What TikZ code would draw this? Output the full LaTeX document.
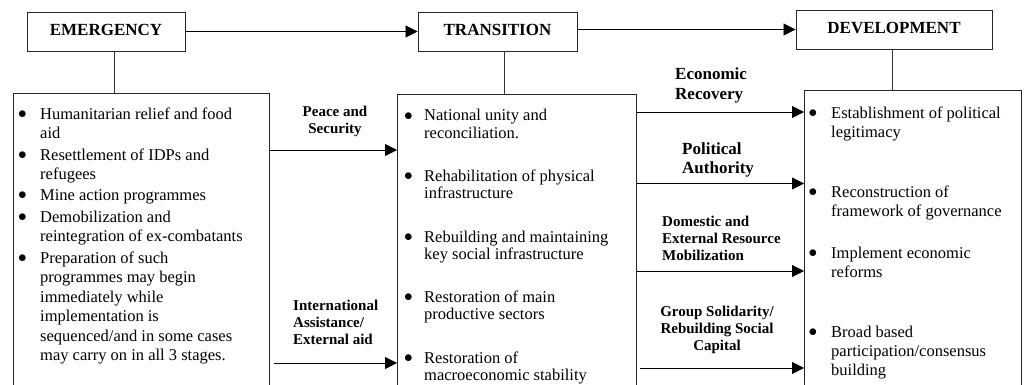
\documentclass[tikz,border=0pt]{standalone}
\usepackage{fontspec}
\setmainfont{Liberation Serif}
\usetikzlibrary{arrows.meta}
\newcommand{\bulletmark}{\raisebox{0.5pt}{$\bullet$}}
\begin{document}
\begin{tikzpicture}[x=1pt,y=-1pt,
  hdr/.style={draw=black!85, line width=0.9pt, minimum width=158pt, minimum height=39pt,
    inner sep=0pt, font=\fontsize{17}{20}\selectfont\bfseries, text height=11.5pt, text depth=4pt},
  panel/.style={draw=black!85, line width=0.9pt, anchor=north west, inner sep=0pt, minimum height=400pt},
  itm/.style={anchor=base west, inner sep=0pt},
  lab/.style={inner sep=0pt, font=\fontsize{15}{17}\selectfont\bfseries},
  biglab/.style={inner sep=0pt, font=\fontsize{17}{19.5}\selectfont\bfseries},
  arr/.style={line width=0.8pt, -{Triangle[length=12pt,width=12pt]}},
  link/.style={line width=0.8pt, draw=black!80}]

\useasboundingbox (0,0) rectangle (1024,385);
\clip (0,0) rectangle (1024,385);

% stage headers
\node[hdr] (E) at (106,31.5) {EMERGENCY};
\node[hdr, minimum width=159pt] (T) at (497.5,31.5) {TRANSITION};
\node[hdr, minimum width=196pt] (D) at (894,29.5) {DEVELOPMENT};

% panels
\node[panel, minimum width=256pt] (L) at (13,93) {};
\node[panel, minimum width=239pt] (M) at (397,94) {};
\node[panel, minimum width=217pt] (R) at (804,90) {};

% header connectors
\draw[arr] (E.east) -- (T.west);
\draw[arr] (T.east |- D.west) -- (D.west);
\draw[link] ([xshift=8pt]E.south) -- ([xshift=8pt]E.south |- L.north);
\draw[link] ([xshift=6.5pt]T.south) -- ([xshift=6.5pt]T.south |- M.north);
\draw[link] ([xshift=-2pt]D.south) -- ([xshift=-2pt]D.south |- R.north);

% left panel items
\begin{scope}[every node/.append style={itm, font=\fontsize{16.5}{19.5}\selectfont}]
\node (l1) at (18,119) {\begin{tabular}[t]{@{}p{22pt}@{}l@{}}\bulletmark & Humanitarian relief and food\\ & aid\end{tabular}};
\node (l2) at (18,160) {\begin{tabular}[t]{@{}p{22pt}@{}l@{}}\bulletmark & Resettlement of IDPs and\\ & refugees\end{tabular}};
\node (l3) at (18,200) {\begin{tabular}[t]{@{}p{22pt}@{}l@{}}\bulletmark & Mine action programmes\end{tabular}};
\node (l4) at (18,222) {\begin{tabular}[t]{@{}p{22pt}@{}l@{}}\bulletmark & Demobilization and\\ & reintegration of ex-combatants\end{tabular}};
\node (l5) at (18,263) {\begin{tabular}[t]{@{}p{22pt}@{}l@{}}\bulletmark & Preparation of such\\ & programmes may begin\\ & immediately while\\ & implementation is\\ & sequenced/and in some cases\\ & may carry on in all 3 stages.\end{tabular}};
\end{scope}

% middle panel items
\begin{scope}[every node/.append style={itm, font=\fontsize{16.5}{17.5}\selectfont}]
\node (m1) at (404,121) {\begin{tabular}[t]{@{}p{20pt}@{}l@{}}\bulletmark & National unity and\\ & reconciliation.\end{tabular}};
\node (m2) at (404,181) {\begin{tabular}[t]{@{}p{20pt}@{}l@{}}\bulletmark & Rehabilitation of physical\\ & infrastructure\end{tabular}};
\node (m3) at (404,242) {\begin{tabular}[t]{@{}p{20pt}@{}l@{}}\bulletmark & Rebuilding and maintaining\\ & key social infrastructure\end{tabular}};
\node (m4) at (404,302) {\begin{tabular}[t]{@{}p{20pt}@{}l@{}}\bulletmark & Restoration of main\\ & productive sectors\end{tabular}};
\node (m5) at (404,363) {\begin{tabular}[t]{@{}p{20pt}@{}l@{}}\bulletmark & Restoration of\\ & macroeconomic stability\end{tabular}};
\end{scope}

% right panel items
\begin{scope}[every node/.append style={itm, font=\fontsize{16.5}{19}\selectfont}]
\node (r1) at (808.5,118) {\begin{tabular}[t]{@{}p{22.5pt}@{}l@{}}\bulletmark & Establishment of political\\ & legitimacy\end{tabular}};
\node (r2) at (808.5,197) {\begin{tabular}[t]{@{}p{22.5pt}@{}l@{}}\bulletmark & Reconstruction of\\ & framework of governance\end{tabular}};
\node (r3) at (808.5,258) {\begin{tabular}[t]{@{}p{22.5pt}@{}l@{}}\bulletmark & Implement economic\\ & reforms\end{tabular}};
\node (r4) at (808.5,337) {\begin{tabular}[t]{@{}p{22.5pt}@{}l@{}}\bulletmark & Broad based\\ & participation/consensus\\ & building\end{tabular}};
\end{scope}

% flow arrows between panels
\draw[arr] ([yshift=-57pt]L.north east) -- ([yshift=-56pt]M.north west);
\draw[arr] ([xshift=4pt,yshift=-270pt]L.north east) -- ([yshift=-269pt]M.north west);
\draw[arr] ([yshift=-18pt]M.north east) -- ([yshift=-22pt]R.north west);
\draw[arr] ([yshift=-89.5pt]M.north east) -- ([yshift=-93.5pt]R.north west);
\draw[arr] ([yshift=-177pt]M.north east) -- ([yshift=-181pt]R.north west);
\draw[arr] ([xshift=3pt,yshift=-274pt]M.north east) -- ([yshift=-278pt]R.north west);

% arrow labels
\node[lab, anchor=base] (ps) at (335,116.5) {\begin{tabular}[t]{@{}c@{}}Peace and\\Security\end{tabular}};
\node[lab, anchor=base west] (ia) at (293,310) {\begin{tabular}[t]{@{}l@{}}International\\Assistance/\\External aid\end{tabular}};
\node[biglab, anchor=base west] (er) at (675,80) {\begin{tabular}[t]{@{}l@{}}Economic\\Recovery\end{tabular}};
\node[biglab, anchor=base west] (pa) at (682,154) {\begin{tabular}[t]{@{}l@{}}Political\\Authority\end{tabular}};
\node[lab, anchor=base west] (de) at (662,226) {\begin{tabular}[t]{@{}l@{}}Domestic and\\External Resource\\Mobilization\end{tabular}};
\node[lab, anchor=base] (gs) at (717,316) {\begin{tabular}[t]{@{}c@{}}Group Solidarity/\\Rebuilding Social\\Capital\end{tabular}};
\end{tikzpicture}
\end{document}
